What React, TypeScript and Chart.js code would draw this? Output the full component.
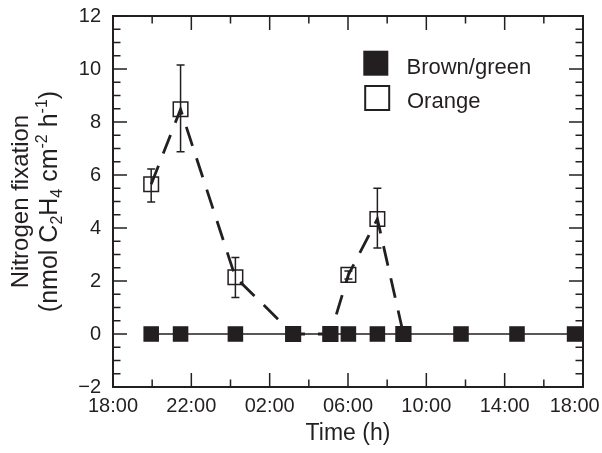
import React, { useEffect, useRef } from 'react';
import { Chart, registerables } from 'chart.js';

Chart.register(...registerables);

// Sampling times, in hours after 18:00
const brownGreenTimes = [1.95, 3.45, 6.25, 9.2, 11.1, 12.02, 13.5, 14.83, 17.77, 20.63, 23.57];
const brownGreenValues = [0, 0, 0, 0, 0, 0, 0, 0, 0, 0, 0];

const orangeTimes = [1.95, 3.45, 6.25, 9.2, 11.1, 12.02, 13.5, 14.83];
const orangeValues = [5.65, 8.48, 2.14, 0, 0, 2.23, 4.34, 0];
const orangeErrUp = [0.58, 1.67, 0.75, 0, 0, 0.15, 1.16, 0];
const orangeErrDown = [0.67, 1.6, 0.76, 0, 0, 0.15, 1.09, 0];

const xTickLabels = ['18:00', '22:00', '02:00', '06:00', '10:00', '14:00', '18:00'];
const seriesLabels = ['Brown/green', 'Orange'];
const xTitle = 'Time (h)';
const yTitleLine1 = 'Nitrogen fixation';
const yTitleLine2: { t: string; k: 'n' | 'sub' | 'sup' }[] = [
  { t: '(nmol C', k: 'n' },
  { t: '2', k: 'sub' },
  { t: 'H', k: 'n' },
  { t: '4', k: 'sub' },
  { t: ' cm', k: 'n' },
  { t: '-2', k: 'sup' },
  { t: ' h', k: 'n' },
  { t: '-1', k: 'sup' },
  { t: ')', k: 'n' },
];

const INK = '#231f20';
const FAMILY = '"Liberation Sans", Arial, Helvetica, sans-serif';

const decorPlugin = {
  id: 'decor',
  beforeDatasetsDraw(chart: any) {
    const { ctx, scales } = chart;
    const x = scales.x, y = scales.y;
    ctx.save();
    ctx.strokeStyle = INK;
    ctx.lineWidth = 1.5;
    orangeTimes.forEach((t, i) => {
      const up = orangeErrUp[i], dn = orangeErrDown[i];
      if (!up && !dn) return;
      const px = x.getPixelForValue(t);
      const top = y.getPixelForValue(orangeValues[i] + up);
      const bot = y.getPixelForValue(orangeValues[i] - dn);
      ctx.beginPath();
      ctx.moveTo(px, top); ctx.lineTo(px, bot);
      ctx.moveTo(px - 4, top); ctx.lineTo(px + 4, top);
      ctx.moveTo(px - 4, bot); ctx.lineTo(px + 4, bot);
      ctx.stroke();
    });
    ctx.restore();
  },
  afterDraw(chart: any) {
    const { ctx, chartArea: a, scales } = chart;
    const x = scales.x, y = scales.y;
    ctx.save();
    ctx.strokeStyle = INK;
    // frame
    ctx.lineWidth = 2;
    ctx.strokeRect(a.left, a.top, a.right - a.left, a.bottom - a.top);
    // ticks
    ctx.lineWidth = 1.5;
    ctx.beginPath();
    for (let v = 0; v <= 24; v += 2) {
      const px = x.getPixelForValue(v);
      const len = v % 4 === 0 ? 14 : 7.5;
      ctx.moveTo(px, a.bottom); ctx.lineTo(px, a.bottom - len);
      ctx.moveTo(px, a.top); ctx.lineTo(px, a.top + len);
    }
    for (let v = -2; v <= 12; v += 0.5) {
      const py = y.getPixelForValue(v);
      const len = v % 2 === 0 ? 14 : 7.5;
      ctx.moveTo(a.left, py); ctx.lineTo(a.left + len, py);
      ctx.moveTo(a.right, py); ctx.lineTo(a.right - len, py);
    }
    ctx.stroke();

    // legend
    const ds = chart.data.datasets;
    ctx.fillStyle = INK;
    ctx.fillRect(363.3, 50.7, 25, 25);
    ctx.lineWidth = 2;
    ctx.strokeRect(365.2, 86, 24, 24);
    ctx.font = `22px ${FAMILY}`;
    ctx.textAlign = 'left';
    ctx.textBaseline = 'alphabetic';
    ctx.fillText(ds[0].label, 406.5, 73.5);
    ctx.fillText(ds[1].label, 407, 107.5);

    // y title
    const cy = (a.top + a.bottom) / 2;
    ctx.save();
    ctx.translate(28, cy);
    ctx.rotate(-Math.PI / 2);
    ctx.font = `24px ${FAMILY}`;
    ctx.textAlign = 'center';
    ctx.fillText(yTitleLine1, 0, 0);
    ctx.restore();

    ctx.save();
    ctx.translate(57, cy);
    ctx.rotate(-Math.PI / 2);
    ctx.textAlign = 'left';
    const fontFor = (k: string) => (k === 'n' ? `25px ${FAMILY}` : `16px ${FAMILY}`);
    let total = 0;
    yTitleLine2.forEach((s) => { ctx.font = fontFor(s.k); total += ctx.measureText(s.t).width; });
    let cx = -total / 2;
    yTitleLine2.forEach((s) => {
      ctx.font = fontFor(s.k);
      const dy = s.k === 'sub' ? 5 : s.k === 'sup' ? -10 : 0;
      ctx.fillText(s.t, cx, dy);
      cx += ctx.measureText(s.t).width;
    });
    ctx.restore();

    ctx.restore();
  },
};

export default function App() {
  const ref = useRef<HTMLCanvasElement | null>(null);
  useEffect(() => {
    if (!ref.current) return;
    const chart = new Chart(ref.current, {
      type: 'line',
      data: {
        datasets: [
          {
            label: seriesLabels[0],
            data: brownGreenTimes.map((t, i) => ({ x: t, y: brownGreenValues[i] })),
            borderColor: INK,
            borderWidth: 1.5,
            backgroundColor: INK,
            pointStyle: 'rect',
            pointRadius: 11,
            pointBorderWidth: 0,
            pointBackgroundColor: INK,
            tension: 0,
          },
          {
            label: seriesLabels[1],
            data: orangeTimes.map((t, i) => ({ x: t, y: orangeValues[i] })),
            borderColor: INK,
            borderWidth: 2.8,
            borderDash: [20, 13],
            pointStyle: 'rect',
            pointRadius: 10.3,
            pointBorderWidth: 1.5,
            pointBorderColor: INK,
            pointBackgroundColor: 'rgba(0,0,0,0)',
            backgroundColor: 'rgba(0,0,0,0)',
            tension: 0,
          },
        ],
      },
      options: {
        responsive: false,
        animation: false,
        events: [],
        layout: { padding: { left: 0, top: 16, right: 19, bottom: 0 } },
        plugins: { legend: { display: false }, tooltip: { enabled: false } },
        scales: {
          x: {
            type: 'linear',
            min: 0,
            max: 24,
            grid: { display: false, drawTicks: false },
            border: { display: false },
            ticks: {
              stepSize: 4,
              padding: 7,
              color: INK,
              maxRotation: 0,
              autoSkip: false,
              font: { family: FAMILY, size: 20 },
              callback: (_v: any, i: number) =>
                i === xTickLabels.length - 1 ? xTickLabels[i] + '   ' : xTickLabels[i],
            },
            title: {
              display: true,
              text: xTitle,
              color: INK,
              font: { family: FAMILY, size: 23 },
              padding: { top: 0, bottom: 6 },
            },
            afterFit: (s: any) => {
              s.height = 66;
              s.paddingLeft = 0;
              s.paddingRight = 0;
            },
          },
          y: {
            type: 'linear',
            min: -2,
            max: 12,
            grid: { display: false, drawTicks: false },
            border: { display: false },
            ticks: {
              stepSize: 2,
              padding: 12,
              color: INK,
              font: { family: FAMILY, size: 20 },
              callback: (v: any) => (v < 0 ? '\u2212' + Math.abs(v) : String(v)),
            },
            afterFit: (s: any) => {
              s.width = 113;
              s.paddingTop = 0;
              s.paddingBottom = 0;
            },
          },
        },
      } as any,
      plugins: [decorPlugin],
    });
    return () => chart.destroy();
  }, []);
  return (
    <div style={{ position: 'fixed', left: 0, top: 0, width: 602, height: 453, background: '#fff' }}>
      <canvas ref={ref} width={602} height={453} style={{ display: 'block' }} />
    </div>
  );
}
